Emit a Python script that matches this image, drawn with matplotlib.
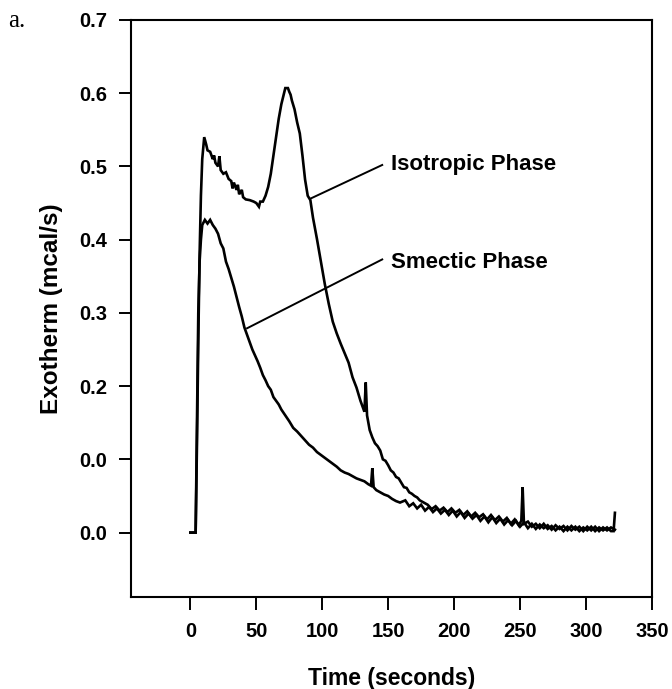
"""
Exotherm vs time for isotropic and smectic phase cure.
"""
import matplotlib
matplotlib.use('Agg')
import matplotlib.pyplot as plt

# --- data -----------------------------------------------------------------
iso_t = [0, 4, 5, 6, 7, 8, 9, 10.5, 12, 13, 15, 17, 18, 19, 21, 22, 23, 25,
         27, 29, 31, 32, 33, 35, 36, 37, 39, 40, 42, 45, 48, 50, 52, 53, 55,
         57, 59, 61, 63, 65, 67, 69, 71, 72, 74, 75, 76, 77, 79, 81, 83, 85,
         87, 89, 91, 93, 96, 99, 102, 105, 108, 111, 114, 117, 120, 123, 126,
         129, 131, 132, 133, 134, 136, 138, 140, 142, 144, 146, 148, 150, 152,
         154, 156, 158, 160, 162, 164, 166, 168, 170, 172, 174, 176, 178, 180,
         183, 186, 189, 192, 195, 198, 201, 204, 207, 210, 213, 216, 219, 222,
         225, 228, 231, 234, 237, 240, 243, 246, 249, 251, 252, 253, 256, 259,
         262, 265, 268, 271, 274, 277, 280, 283, 286, 289, 292, 295, 298, 301,
         304, 307, 310, 313, 316, 319, 321, 322]
iso_y = [0.0, 0.0, 0.12, 0.26, 0.38, 0.46, 0.51, 0.540, 0.530, 0.522, 0.520,
         0.510, 0.515, 0.505, 0.500, 0.514, 0.495, 0.490, 0.492, 0.483, 0.480,
         0.470, 0.478, 0.468, 0.475, 0.462, 0.468, 0.458, 0.455, 0.454, 0.452,
         0.450, 0.445, 0.452, 0.452, 0.460, 0.472, 0.490, 0.515, 0.540, 0.565,
         0.585, 0.600, 0.607, 0.607, 0.602, 0.598, 0.590, 0.578, 0.560, 0.545,
         0.515, 0.482, 0.460, 0.454, 0.430, 0.401, 0.370, 0.339, 0.312, 0.288,
         0.272, 0.258, 0.245, 0.232, 0.212, 0.198, 0.180, 0.170, 0.165, 0.205,
         0.160, 0.140, 0.130, 0.122, 0.118, 0.112, 0.100, 0.098, 0.092, 0.085,
         0.082, 0.076, 0.074, 0.068, 0.062, 0.061, 0.055, 0.053, 0.050, 0.048,
         0.044, 0.042, 0.040, 0.038, 0.032, 0.036, 0.030, 0.034, 0.028, 0.033,
         0.027, 0.031, 0.024, 0.029, 0.022, 0.027, 0.021, 0.025, 0.018, 0.024,
         0.017, 0.022, 0.015, 0.020, 0.012, 0.018, 0.010, 0.016, 0.062, 0.012,
         0.015, 0.008, 0.012, 0.006, 0.012, 0.005, 0.009, 0.003, 0.008, 0.002,
         0.008, 0.003, 0.008, 0.002, 0.007, 0.003, 0.008, 0.002, 0.007, 0.003,
         0.007, 0.002, 0.002, 0.027]

sme_t = [0, 4, 5, 6, 7, 8, 9, 11, 13, 15, 17, 19, 21, 23, 25, 27, 29, 31, 33,
         35, 37, 39, 41, 43, 45, 47, 49, 51, 53, 55, 57, 59, 61, 63, 65, 67,
         69, 72, 75, 78, 81, 84, 87, 90, 93, 96, 99, 102, 105, 108, 111, 114,
         117, 120, 123, 126, 129, 132, 135, 137, 138, 139, 141, 144, 147, 150,
         153, 156, 159, 163, 166, 169, 172, 175, 178, 181, 184, 187, 190, 193,
         196, 199, 202, 205, 208, 211, 214, 217, 220, 223, 226, 229, 232, 235,
         238, 241, 244, 247, 250, 253, 256, 259, 262, 265, 268, 271, 274, 277,
         280, 283, 286, 289, 292, 295, 298, 301, 304, 307, 310, 313, 316, 319,
         322]
sme_y = [0.0, 0.0, 0.15, 0.30, 0.37, 0.40, 0.42, 0.427, 0.422, 0.427, 0.420,
         0.415, 0.408, 0.395, 0.388, 0.370, 0.360, 0.348, 0.336, 0.322, 0.308,
         0.295, 0.280, 0.270, 0.260, 0.250, 0.242, 0.234, 0.225, 0.215, 0.208,
         0.200, 0.195, 0.185, 0.180, 0.175, 0.168, 0.160, 0.152, 0.143, 0.138,
         0.132, 0.126, 0.120, 0.116, 0.110, 0.106, 0.102, 0.098, 0.094, 0.090,
         0.085, 0.082, 0.080, 0.077, 0.074, 0.072, 0.070, 0.066, 0.064, 0.088,
         0.062, 0.058, 0.055, 0.052, 0.050, 0.046, 0.043, 0.041, 0.044, 0.036,
         0.040, 0.033, 0.038, 0.030, 0.035, 0.028, 0.033, 0.026, 0.031, 0.024,
         0.030, 0.022, 0.028, 0.020, 0.026, 0.019, 0.024, 0.016, 0.022, 0.014,
         0.021, 0.013, 0.019, 0.011, 0.017, 0.010, 0.016, 0.008, 0.014, 0.006,
         0.012, 0.005, 0.011, 0.006, 0.010, 0.004, 0.010, 0.005, 0.009, 0.003,
         0.009, 0.004, 0.008, 0.002, 0.008, 0.003, 0.008, 0.002, 0.007, 0.003,
         0.007, 0.004]

x_ticks = [0, 50, 100, 150, 200, 250, 300, 350]
y_ticks = [0.0, 0.1, 0.2, 0.3, 0.4, 0.5, 0.6, 0.7]
y_tick_labels = ['0.0', '0.0', '0.2', '0.3', '0.4', '0.5', '0.6', '0.7']

plt.rcParams['font.family'] = ['Liberation Sans', 'DejaVu Sans']
plt.rcParams['font.weight'] = 'bold'

fig = plt.figure(figsize=(6.72, 6.89), dpi=100)
ax = fig.add_axes([0.195, 0.1335, 0.775, 0.8375])

ax.plot(iso_t, iso_y, color='black', linewidth=1.9, solid_joinstyle='miter')
ax.plot(sme_t, sme_y, color='black', linewidth=1.9, solid_joinstyle='miter')

# leader lines + labels
ax.plot([91, 145.5], [0.456, 0.502], color='black', linewidth=1.4)
ax.plot([43, 145.5], [0.279, 0.373], color='black', linewidth=1.4)
ax.text(152, 0.503, 'Isotropic Phase', fontsize=16, fontweight='bold',
        va='center', ha='left')
ax.text(152, 0.369, 'Smectic Phase', fontsize=16, fontweight='bold',
        va='center', ha='left')

ax.set_xlim(-45, 350)
ax.set_ylim(-0.088, 0.7)
ax.set_xticks(x_ticks)
ax.set_yticks(y_ticks)
ax.set_yticklabels(y_tick_labels)

for side in ['left', 'right', 'top', 'bottom']:
    ax.spines[side].set_linewidth(1.5)
ax.tick_params(axis='x', direction='out', length=9, width=1.4, pad=9,
               labelsize=14.5)
ax.tick_params(axis='y', direction='out', length=9, width=1.4, pad=8,
               labelsize=14.5)

ax.set_xlabel('Time (seconds)', fontsize=16.5, fontweight='bold', labelpad=19)
ax.set_ylabel('Exotherm (mcal/s)', fontsize=17.5, fontweight='bold', labelpad=12)

fig.text(0.012, 0.97, 'a.', fontsize=18, family='Liberation Serif',
         fontweight='normal', va='center', ha='left')

plt.savefig('out.png', dpi=100)
plt.close()
